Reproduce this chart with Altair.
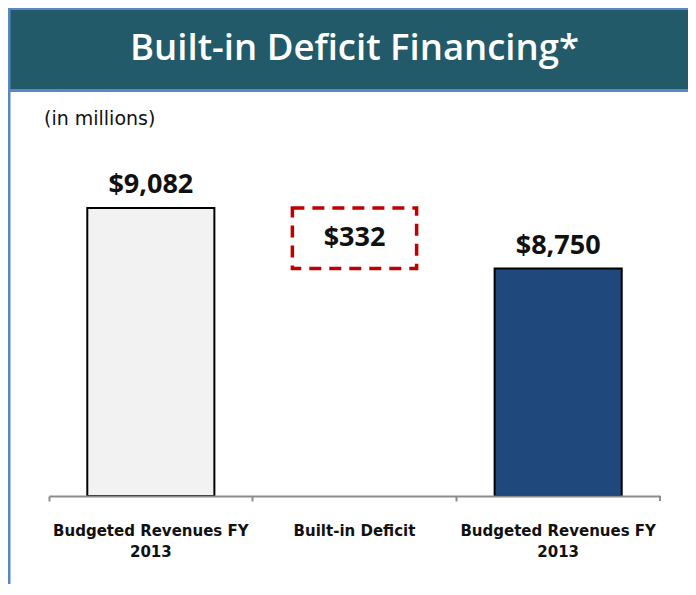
import altair as alt
import pandas as pd

# ---- data ----
categories = ["Budgeted Revenues FY\n2013", "Built-in Deficit", "Budgeted Revenues FY\n2013"]
amounts = [9082, 332, 8750]
kinds = ["start", "deficit", "end"]
title_text = "Built-in Deficit Financing*"
subtitle_text = "(in millions)"

# waterfall extents
lows = [0, amounts[0] - amounts[1], 0]
highs = [amounts[0], amounts[0], amounts[2]]

df = pd.DataFrame({
    "idx": list(range(len(categories))),
    "cat": categories,
    "amount": amounts,
    "kind": kinds,
    "low": lows,
    "high": highs,
})

W, H = 611, 364
BOTTOM = 88
AXIS_GRAY = "#8c8c8c"

xscale = alt.Scale(paddingInner=0, paddingOuter=0)
yscale = alt.Scale(domain=[7500, 9500], clamp=True)

X = alt.X("idx:O", scale=xscale,
          axis=alt.Axis(labels=False, title=None, domainColor=AXIS_GRAY, domainWidth=2,
                        tickColor=AXIS_GRAY, tickWidth=2, tickSize=5, bandPosition=0,
                        zindex=1))
Y = alt.Y("high:Q", scale=yscale, axis=None)

base = alt.Chart(df)

bars = base.transform_filter("datum.kind != 'deficit'").mark_bar(
    width={"band": 0.624}, stroke="black", strokeWidth=2
).encode(
    x=X, y=Y, y2="low:Q",
    color=alt.Color("kind:N", scale=alt.Scale(domain=["start", "end"], range=["#f2f2f2", "#1f497d"]),
                    legend=None),
)

box = base.transform_filter("datum.kind == 'deficit'").mark_bar(
    width={"band": 0.61}, fillOpacity=0, stroke="#c00000", strokeWidth=3.5, strokeDash=[12, 8]
).encode(x=X, y=Y, y2="low:Q")

labels_top = base.transform_filter("datum.kind != 'deficit'").mark_text(
    font="Open Sans", fontWeight="bold", fontSize=27, baseline="alphabetic", dy=-15, color="#111"
).encode(x=X, y=Y, text=alt.Text("amount:Q", format="$,.0f"))

label_mid = base.transform_filter("datum.kind == 'deficit'").mark_text(
    font="Open Sans", fontWeight="bold", fontSize=27, baseline="middle", color="#111"
).encode(
    x=X,
    y=alt.Y("mid:Q", scale=yscale, axis=None),
    text=alt.Text("amount:Q", format="$,.0f"),
).transform_calculate(mid="(datum.low + datum.high) / 2")

cat_labels = base.mark_text(
    font="DejaVu Sans", fontWeight="bold", fontSize=15, baseline="top", lineBreak="\n",
    lineHeight=21, color="#111"
).encode(x=X, y=alt.value(H + 28), text="cat:N")

end_tick = base.transform_filter(f"datum.idx == {len(categories) - 1}").mark_rule(
    color=AXIS_GRAY, strokeWidth=2
).encode(x=alt.X("idx:O", scale=xscale, bandPosition=1), y=alt.value(H), y2=alt.value(H + 5))

# ---- decoration (banner, border, headings) ----
deco = alt.Chart(pd.DataFrame({"t": [title_text], "s": [subtitle_text]}))
banner = deco.mark_rect(color="#235a69").encode(
    x=alt.value(-41), x2=alt.value(W + 28), y=alt.value(-124), y2=alt.value(-43))
banner_line = deco.mark_rect(color="#5a86c4").encode(
    x=alt.value(-41), x2=alt.value(W + 28), y=alt.value(-43), y2=alt.value(-40))
top_line = deco.mark_rect(color="#5a86c4").encode(
    x=alt.value(-41), x2=alt.value(W + 28), y=alt.value(-124), y2=alt.value(-122))
left_line = deco.mark_rect(color="#5a86c4").encode(
    x=alt.value(-41), x2=alt.value(-38.5), y=alt.value(-124), y2=alt.value(H + BOTTOM))
title = deco.mark_text(
    font="Open Sans", fontWeight=600, fontSize=36.5, color="white", baseline="middle"
).encode(x=alt.value(W / 2), y=alt.value(-83), text="t:N")
subtitle = deco.mark_text(
    font="DejaVu Sans", fontSize=19, color="#111", align="left", baseline="middle"
).encode(x=alt.value(-5), y=alt.value(-13), text="s:N")

chart = alt.layer(
    banner, banner_line, top_line, left_line, title, subtitle,
    bars, box, labels_top, label_mid, cat_labels, end_tick,
).properties(
    width=W, height=H,
    autosize=alt.AutoSizeParams(type="none"),
    padding={"left": 41, "top": 124, "right": 28, "bottom": BOTTOM},
).configure(
    background="white",
    view=alt.ViewConfig(stroke="transparent", strokeWidth=0),
)

chart.save("out.html", embed_options={"renderer": "svg", "actions": False})
